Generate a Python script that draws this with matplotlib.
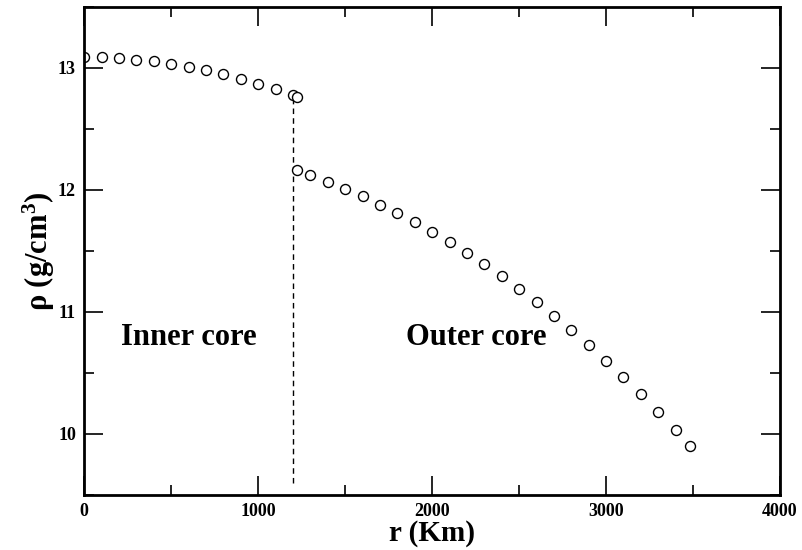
import matplotlib
matplotlib.use("Agg")
import matplotlib.pyplot as plt
from matplotlib.ticker import MultipleLocator

plt.rcParams['font.family'] = ['Liberation Serif', 'DejaVu Serif']
plt.rcParams['font.weight'] = 'bold'
plt.rcParams['mathtext.fontset'] = 'custom'
plt.rcParams['mathtext.rm'] = 'Liberation Serif:bold'
plt.rcParams['mathtext.bf'] = 'Liberation Serif:bold'
plt.rcParams['mathtext.it'] = 'Liberation Serif:bold'

# Density profile of the Earth's core (radius in km, density in g/cm^3)
r_inner = [0, 100, 200, 300, 400, 500, 600, 700, 800, 900, 1000, 1100, 1200, 1221.5]
rho_inner = [13.089, 13.086, 13.080, 13.069, 13.054, 13.034, 13.010, 12.982,
             12.949, 12.912, 12.871, 12.825, 12.775, 12.764]

r_outer = [1221.5, 1300, 1400, 1500, 1600, 1700, 1800, 1900, 2000, 2100, 2200,
           2300, 2400, 2500, 2600, 2700, 2800, 2900, 3000, 3100, 3200, 3300,
           3400, 3480]
rho_outer = [12.166, 12.125, 12.069, 12.010, 11.947, 11.880, 11.809, 11.734,
             11.655, 11.571, 11.483, 11.390, 11.293, 11.191, 11.083, 10.971,
             10.853, 10.730, 10.602, 10.467, 10.327, 10.181, 10.029, 9.904]

boundary_r = 1200
boundary_rho = [9.6, 12.74]

x_ticks = [0, 1000, 2000, 3000, 4000]
y_ticks = [10, 11, 12, 13]

fig = plt.figure(figsize=(8.02, 5.5), dpi=100)
ax = fig.add_axes([0.1051, 0.1, 0.8675, 0.8873])

ax.plot([boundary_r, boundary_r], boundary_rho, color='black', lw=1.0,
        dashes=(4, 3))
ax.plot(r_inner + r_outer, rho_inner + rho_outer, linestyle='none', marker='o',
        markersize=7.2, markerfacecolor='white', markeredgecolor='black',
        markeredgewidth=1.0)

ax.set_xlim(0, 4000)
ax.set_ylim(9.5, 13.5)
ax.set_xticks(x_ticks)
ax.set_yticks(y_ticks)
ax.xaxis.set_minor_locator(MultipleLocator(500))
ax.yaxis.set_minor_locator(MultipleLocator(0.5))
ax.tick_params(which='both', direction='in', top=True, right=True, width=1.2)
ax.tick_params(which='major', length=14, labelsize=13, pad=6)
ax.tick_params(which='minor', length=7)
for lbl in ax.get_xticklabels() + ax.get_yticklabels():
    lbl.set_fontweight('bold')
for s in ax.spines.values():
    s.set_linewidth(2.0)

ax.set_xlabel('r (Km)', fontsize=21, fontweight='bold', labelpad=0)
ax.set_ylabel(r'ρ (g/cm$^{3}$)', fontsize=22, fontweight='bold', labelpad=1)

ax.text(209, 10.73, 'Inner core', fontsize=22, fontweight='bold')
ax.text(1849, 10.73, 'Outer core', fontsize=22, fontweight='bold')

fig.savefig('out.png', dpi=100)
